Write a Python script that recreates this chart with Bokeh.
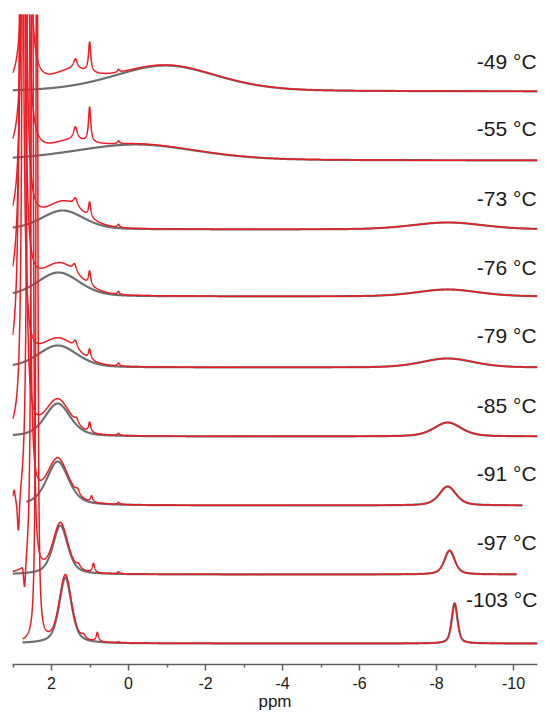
import numpy as np
from bokeh.plotting import figure
from bokeh.models import Range1d, FixedTicker
from bokeh.core.properties import value
from bokeh.embed import file_html
from bokeh.resources import INLINE

# ---- data (top spectrum first) ----
temps = ["-49 °C", "-55 °C", "-73 °C", "-76 °C", "-79 °C", "-85 °C", "-91 °C", "-97 °C", "-103 °C"]
offsets = [573, 504, 435, 368, 297, 228, 159, 90, 21]          # baseline of each trace
gray_start = [3.01, 3.01, 3.01, 3.01, 3.01, 3.01, 2.65, 3.01, 2.75]
red_start = [3.01, 3.01, 3.01, 3.01, 3.01, 3.01, 3.01, 3.01, 2.75]
ppm_end = [-10.62, -10.62, -10.62, -10.62, -10.62, -10.62, -10.23, -10.08, -10.62]

# fitted components (grey curves)
broad_pos = [-0.96, -0.18, 1.71, 1.82, 1.84, 1.84, 1.84, 1.77, 1.64]
broad_h = [26, 16, 19, 24, 22, 33, 44, 49, 66]
broad_w = [1.6, 1.9, 0.65, 0.65, 0.6, 0.39, 0.34, 0.23, 0.19]
shape_eta = [0.3, 0.3, 0.3, 0.3, 0.3, 0.45, 0.5, 0.55, 0.55]
right_pos = [-8.29, -8.29, -8.29, -8.29, -8.29, -8.29, -8.29, -8.34, -8.47]
right_h = [0, 0, 7, 7, 9, 14, 19, 24, 40]
right_w = [1.0, 1.0, 1.1, 0.95, 0.8, 0.42, 0.26, 0.16, 0.09]

# measured-only features (red curves)
huge_pos = [2.65, 2.68, 2.72, 2.75, 2.78, 2.72, 2.60, 2.50, 2.38]
huge_h = [850, 800, 900, 900, 1000, 1100, 1100, 1000, 1200]
huge_w = [0.05, 0.05, 0.045, 0.045, 0.04, 0.035, 0.03, 0.025, 0.02]
ex_pos = [1.5, 1.55, 1.6, 1.7, 1.75, 1.8, 1.8, 1.75, 1.64]
ex_h = [15, 10, 8, 8, 6, 3, 2, 2, 2]
ex_w = [0.6, 0.6, 0.5, 0.5, 0.5, 0.4, 0.35, 0.3, 0.2]
p1_pos = [1.38, 1.38, 1.38, 1.40, 1.38, 1.35, 1.32, 1.30, 1.17]
p1_h = [10, 13, 8, 8, 8, 5, 5, 4, 4]
p2_pos = [1.01, 1.01, 1.01, 1.01, 1.01, 1.01, 0.96, 0.91, 0.81]
p2_h = [30, 35, 15, 14, 10, 10, 6, 9, 9]
p3_pos = [0.26] * 9
p3_h = [3, 3, 3, 3, 3, 2, 2, 2, 1]
spike_pos = [3.0, 3.0, 3.0, 3.0, 3.0, 3.0, 2.97, 2.75, 3.0]
spike_h = [0, 0, 0, 0, 0, 0, 10, 4, 0]
dip_pos = [3.0, 3.0, 3.0, 3.0, 3.0, 3.0, 2.86, 2.70, 3.0]
dip_h = [0, 0, 0, 0, 0, 0, -42, -30, 0]

label_lift = [30, 32, 31, 29, 32, 31, 32, 32, 44]

major_ticks = [2, 0, -2, -4, -6, -8, -10]
minor_ticks = [3, 1, -1, -3, -5, -7, -9]
x_title = "ppm"


def lor(x, x0, w):
    return 1.0 / (1.0 + ((x - x0) / w) ** 2)


def pv(x, x0, w, eta):
    g = np.exp(-np.log(2) * ((x - x0) / w) ** 2)
    return eta * lor(x, x0, w) + (1 - eta) * g


p = figure(width=545, height=715, output_backend="svg", toolbar_location=None,
           x_range=Range1d(3.013, -10.623), y_range=Range1d(0, 650),
           y_axis_location=None, min_border_left=12, min_border_right=8,
           min_border_top=14, min_border_bottom=51)
p.outline_line_color = None
p.xgrid.visible = False
p.ygrid.visible = False
p.background_fill_color = "white"

RED = "#ec1c24"
GRAY = "#6e6e6e"

grays = []
reds = []
for i in range(len(temps)):
    xg = np.linspace(gray_start[i], ppm_end[i], 3000)
    xr = np.linspace(red_start[i], ppm_end[i], 6000)

    def fit(x):
        return (broad_h[i] * pv(x, broad_pos[i], broad_w[i], shape_eta[i])
                + right_h[i] * pv(x, right_pos[i], right_w[i], shape_eta[i]))

    yg = offsets[i] + fit(xg)
    yr = (offsets[i] + fit(xr)
          + huge_h[i] * lor(xr, huge_pos[i], huge_w[i])
          + ex_h[i] * pv(xr, ex_pos[i], ex_w[i], 0.5)
          + p1_h[i] * lor(xr, p1_pos[i], 0.06)
          + p2_h[i] * lor(xr, p2_pos[i], 0.035)
          + p3_h[i] * lor(xr, p3_pos[i], 0.03)
          + spike_h[i] * lor(xr, spike_pos[i], 0.03)
          + dip_h[i] * lor(xr, dip_pos[i], 0.035))
    grays.append((xg, yg))
    reds.append((xr, yr))

for xg, yg in grays:
    p.line(xg, yg, line_color=GRAY, line_width=2.2)
for xr, yr in reds:
    p.line(xr, yr, line_color=RED, line_width=1.5)

p.text(x=[-10.60] * 8 + [-10.62], y=[o + l for o, l in zip(offsets, label_lift)], text=temps,
       text_align="right", text_baseline="middle", text_font_size="21px",
       text_font=value("Liberation Sans"), text_color="#1a1a1a")

ax = p.xaxis[0]
ax.ticker = FixedTicker(ticks=major_ticks, minor_ticks=minor_ticks)
ax.major_label_overrides = {t: str(t) for t in major_ticks}
ax.axis_line_color = "#606060"
ax.axis_line_width = 1.5
ax.major_tick_line_color = "#606060"
ax.major_tick_line_width = 1.5
ax.minor_tick_line_color = "#606060"
ax.minor_tick_line_width = 1.5
ax.major_tick_in = 0
ax.major_tick_out = 6
ax.minor_tick_in = 0
ax.minor_tick_out = 3
ax.major_label_standoff = 6
ax.major_label_text_font = "Liberation Sans"
ax.major_label_text_font_size = "16px"
ax.major_label_text_color = "#1a1a1a"
ax.axis_label = x_title
ax.axis_label_standoff = 0
ax.axis_label_text_font = "Liberation Sans"
ax.axis_label_text_font_size = "17px"
ax.axis_label_text_font_style = "normal"
ax.axis_label_text_color = "#1a1a1a"

open("out.html", "w").write(file_html(p, INLINE))
